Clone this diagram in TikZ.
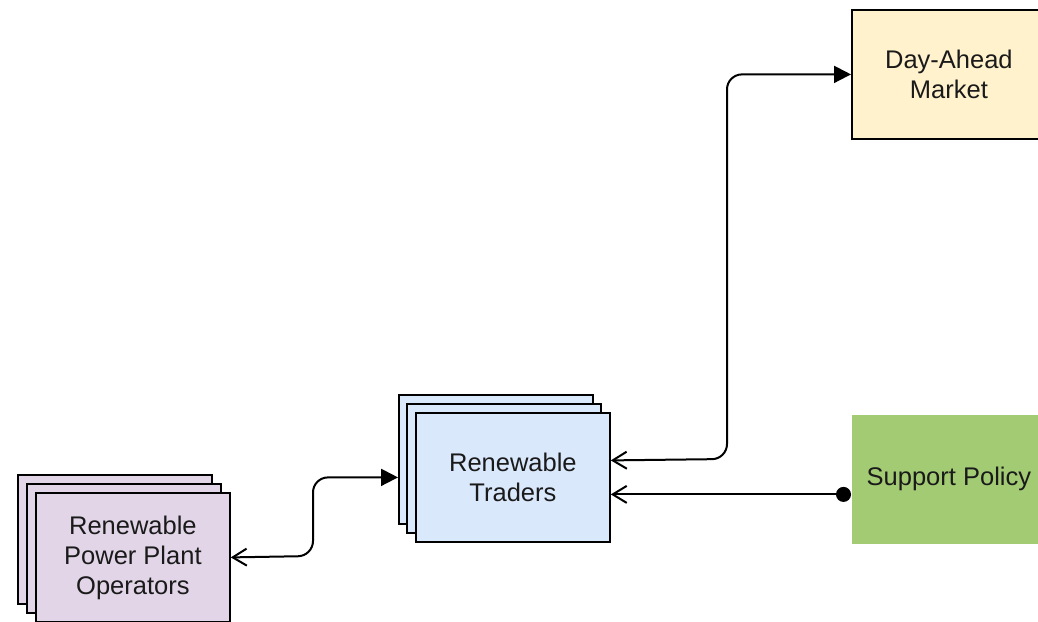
\documentclass[tikz,border=0pt]{standalone}
\usepackage{fontspec}
\setmainfont{Liberation Sans}
\usetikzlibrary{arrows.meta,positioning,calc}
\definecolor{opsfill}{HTML}{E1D5E7}
\definecolor{trfill}{HTML}{DAE8FC}
\definecolor{damfill}{HTML}{FFF2CC}
\definecolor{spfill}{HTML}{A2CB74}
\definecolor{txt}{HTML}{1A1A1A}
\tikzset{
  openhead/.tip={Straight Barb[length=14pt,width=17pt,line width=2pt]},
  filledhead/.tip={Triangle[length=17pt,width=17pt]},
  dothead/.tip={Circle[length=15pt]}}
\begin{document}
\begin{tikzpicture}[x=1pt,y=-1pt,
  box/.style={rectangle,draw=black,line width=1.8pt,minimum width=194pt,minimum height=129pt,
    inner sep=0pt,align=center,text=txt,font=\fontsize{25.5}{30}\selectfont},
  conn/.style={line width=2pt,rounded corners=15pt}]
\useasboundingbox (0,0) rectangle (1038,621);
% Renewable Power Plant Operators (stack)
\node[box,fill=opsfill,anchor=north west] (opsA) at (17,474) {};
\node[box,fill=opsfill,anchor=north west] (opsB) at (26,483) {};
\node[box,fill=opsfill,anchor=north west] (ops) at (35,492) {Renewable\\Power Plant\\Operators};
% Renewable Traders (stack)
\node[box,fill=trfill,anchor=north west] (trA) at (398,394) {};
\node[box,fill=trfill,anchor=north west] (trB) at (406,403) {};
\node[box,fill=trfill,anchor=north west] (tr) at (415,412) {Renewable\\Traders};
% Day-Ahead Market
\node[box,fill=damfill,anchor=north west] (dam) at (851,9) {Day-Ahead\\Market};
% Support Policy
\node[box,draw=none,fill=spfill,anchor=north west] (sp) at (851,414) {Support Policy};
% connectors
\coordinate (trhigh) at ([yshift=17pt]tr.east);
\coordinate (trlow) at ([yshift=-17pt]tr.east);
\coordinate (opsbend) at (313,556);
\coordinate (dambend) at (727,459);
\draw[conn,openhead-filledhead] (ops.east) -- (opsbend) |- (trA.west |- tr.center);
\draw[conn,openhead-filledhead] (trhigh) -- (dambend) |- (dam.west);
\draw[line width=2pt,openhead-dothead] (trlow) -- (sp.west |- trlow);
\end{tikzpicture}
\end{document}
